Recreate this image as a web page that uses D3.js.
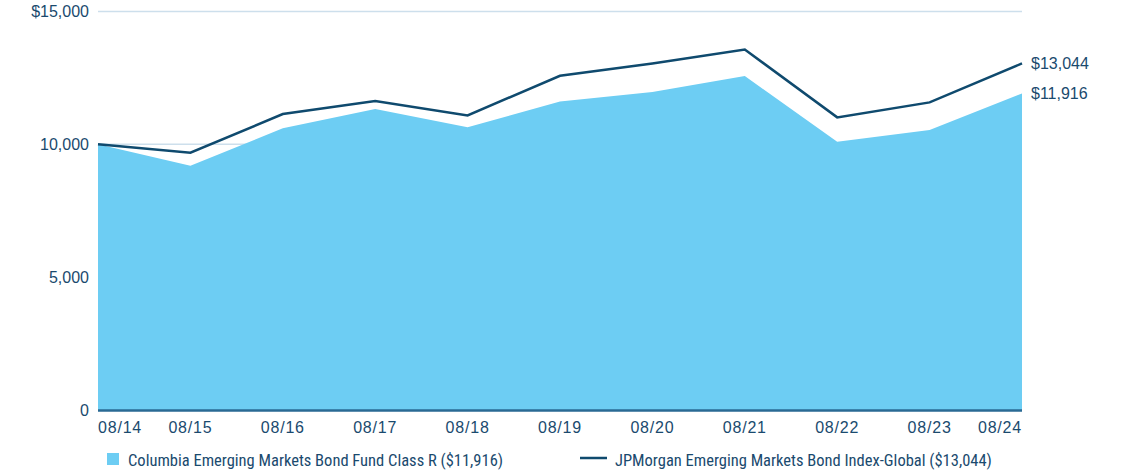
<!DOCTYPE html>
<html><head><meta charset="utf-8">
<script src="https://cdn.jsdelivr.net/npm/d3@7"></script>
<style>
body{margin:0;background:#fff;}
svg text{font-family:"Liberation Sans",Arial,sans-serif;fill:#1a4a6e;}
svg text.leg{font-family:"Roboto Condensed","Liberation Sans Narrow",sans-serif;}
</style></head>
<body><svg id="c" width="1121" height="471"></svg>
<script>
const categories = ["08/14","08/15","08/16","08/17","08/18","08/19","08/20","08/21","08/22","08/23","08/24"];
const fundValues = [10000,9195,10602,11327,10639,11617,11966,12568,10098,10538,11916];
const indexValues = [10000,9684,11139,11628,11090,12579,13045,13571,11015,11579,13044];
const yTicks = [0,5000,10000,15000];
const fundName = "Columbia Emerging Markets Bond Fund Class R ($11,916)";
const indexName = "JPMorgan Emerging Markets Bond Index-Global ($13,044)";

const svg = d3.select("#c");
const x = d3.scalePoint().domain(categories).range([98,1022]);
const y = d3.scaleLinear().domain([0,15000]).range([410,11.5]);

// grid
svg.append("g").selectAll("line").data(yTicks.filter(d=>d>0)).join("line")
  .attr("x1",98).attr("x2",1022).attr("y1",d=>y(d)).attr("y2",d=>y(d))
  .attr("stroke","#cddfec").attr("stroke-width",1.5);

// area
const area = d3.area().x((d,i)=>x(categories[i])).y0(y(0)).y1(d=>y(d));
svg.append("path").datum(fundValues).attr("d",area).attr("fill","#6dcdf3");

// line
const line = d3.line().x((d,i)=>x(categories[i])).y(d=>y(d));
svg.append("path").datum(indexValues).attr("d",line).attr("fill","none")
  .attr("stroke","#0f4a6e").attr("stroke-width",2.5).attr("stroke-linejoin","miter");

// baseline
svg.append("line").attr("x1",98).attr("x2",1022).attr("y1",y(0)+0.5).attr("y2",y(0)+0.5)
  .attr("stroke","#2a6a94").attr("stroke-width",2.5);

// y labels
const fmt = d3.format(",");
svg.append("g").selectAll("text").data(yTicks).join("text")
  .attr("x",89).attr("y",d=>y(d)).attr("dy","0.35em").attr("text-anchor","end")
  .attr("font-size",16).text(d=>d===15000?"$"+fmt(d):fmt(d));

// x labels
svg.append("g").selectAll("text").data(categories).join("text")
  .attr("x",d=>x(d)).attr("y",433)
  .attr("text-anchor",(d,i)=>i===0?"start":(i===categories.length-1?"end":"middle"))
  .attr("font-size",16).attr("letter-spacing",0.8).text(d=>d);

// end labels
const last = categories.length-1;
svg.append("text").attr("x",1031).attr("y",y(indexValues[last])).attr("dy","0.35em")
  .attr("font-size",16).text("$"+fmt(indexValues[last]));
svg.append("text").attr("x",1031).attr("y",y(fundValues[last])).attr("dy","0.35em")
  .attr("font-size",16).text("$"+fmt(fundValues[last]));

// legend
svg.append("rect").attr("x",107).attr("y",453).attr("width",12).attr("height",12).attr("fill","#6dcdf3");
svg.append("text").attr("class","leg").attr("x",128).attr("y",466).attr("font-size",16.5).text(fundName);
svg.append("line").attr("x1",580).attr("x2",607).attr("y1",458).attr("y2",458).attr("stroke","#0f4a6e").attr("stroke-width",2.5);
svg.append("text").attr("class","leg").attr("x",615).attr("y",466).attr("font-size",16.5).text(indexName);
</script></body></html>
